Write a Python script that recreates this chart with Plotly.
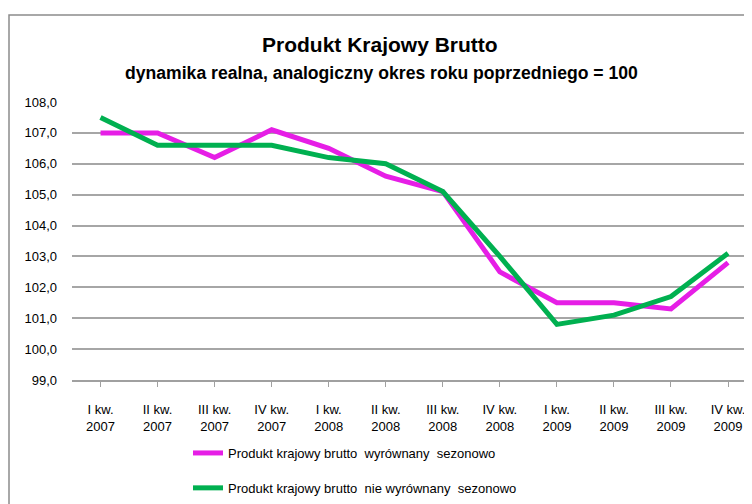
import plotly.graph_objects as go

categories = ["I kw.<br>2007", "II kw.<br>2007", "III kw.<br>2007", "IV kw.<br>2007",
              "I kw.<br>2008", "II kw.<br>2008", "III kw.<br>2008", "IV kw.<br>2008",
              "I kw.<br>2009", "II kw.<br>2009", "III kw.<br>2009", "IV kw.<br>2009"]
sa_values = [107.0, 107.0, 106.2, 107.1, 106.5, 105.6, 105.1, 102.5, 101.5, 101.5, 101.3, 102.8]
nsa_values = [107.5, 106.6, 106.6, 106.6, 106.2, 106.0, 105.1, 103.0, 100.8, 101.1, 101.7, 103.1]
sa_name = "Produkt krajowy brutto  wyrównany  sezonowo"
nsa_name = "Produkt krajowy brutto  nie wyrównany  sezonowo"
title = "Produkt Krajowy Brutto"
subtitle = "dynamika realna, analogiczny okres roku poprzedniego = 100"

FONT = "Liberation Sans Narrow, Arial Narrow, Liberation Sans, Arial, sans-serif"

# the page body has an 8px default margin; work in page pixels and subtract it
OFF = 8
W, H = 752, 504
L, T = 72 - OFF, 102 - OFF
B = H - (380 - OFF)
R = W - L - 680
w_plot = W - L - R
h_plot = H - T - B


def px(x):
    return (x - OFF - L) / w_plot


def py(y):
    return (H - B - (y - OFF)) / h_plot


fig = go.Figure()
fig.add_trace(go.Scatter(x=categories, y=sa_values, mode="lines", name=sa_name,
                         line=dict(color="#E61EE6", width=5), legendgroup="a"))
fig.add_trace(go.Scatter(x=categories, y=nsa_values, mode="lines", name=nsa_name,
                         line=dict(color="#00B050", width=5), legendgroup="b"))

fig.update_layout(
    width=W, height=H,
    paper_bgcolor="white", plot_bgcolor="white",
    margin=dict(l=L, r=R, t=T, b=B, autoexpand=False),
    font=dict(family=FONT, size=13, color="black"),
    separators=", ",
    showlegend=True,
    legend=dict(xref="container", yref="container",
                x=(188 - OFF) / W, y=1 - (438 - OFF) / H, xanchor="left", yanchor="top",
                font=dict(size=13, family=FONT), tracegroupgap=15,
                bgcolor="rgba(0,0,0,0)"),
    xaxis=dict(type="category", range=[-0.5, 11.42], showgrid=False,
               showline=True, linecolor="#A0A0A0", linewidth=1.5,
               ticks="outside", ticklen=5, tickcolor="#A0A0A0",
               ticklabelstandoff=12,
               tickfont=dict(size=13), fixedrange=True, automargin=False),
    yaxis=dict(range=[99, 108], dtick=1, tickformat=".1f",
               showgrid=True, gridcolor="#A6A6A6", gridwidth=1.5,
               showline=False, zeroline=False, ticks="", ticklabelstandoff=14,
               tickfont=dict(size=13), automargin=False),
    annotations=[
        dict(text="<b>" + title + "</b>", xref="paper", yref="paper",
             x=px(380), y=py(45), showarrow=False,
             font=dict(size=21, family=FONT), xanchor="center", yanchor="middle"),
        dict(text="<b>" + subtitle + "</b>", xref="paper", yref="paper",
             x=px(381), y=py(73), showarrow=False,
             font=dict(size=17.6, family=FONT), xanchor="center", yanchor="middle"),
    ],
    shapes=[dict(type="rect", xref="paper", yref="paper",
                 x0=px(9), x1=px(800), y0=-0.5, y1=py(15),
                 line=dict(color="#8C8C8C", width=1.5), layer="below")],
)

fig.write_html("out.html")
